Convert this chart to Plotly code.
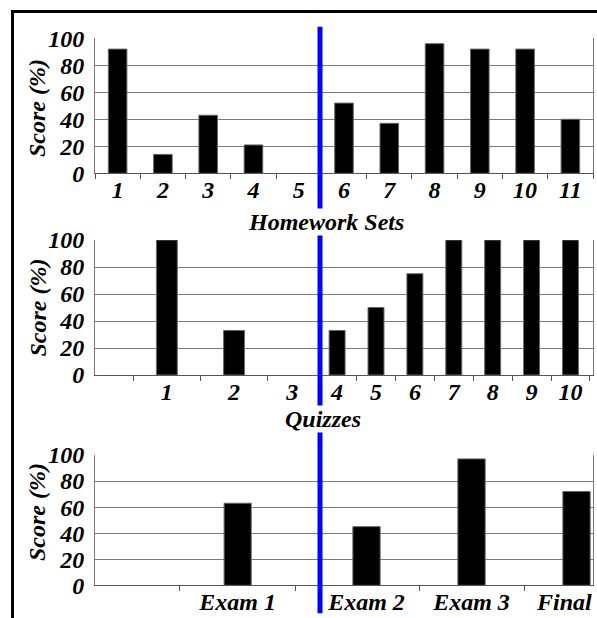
import plotly.graph_objects as go

W, H = 597, 618

# ---------------- data ----------------
hw_labels = ["1", "2", "3", "4", "5", "6", "7", "8", "9", "10", "11"]
hw_scores = [92, 14, 43, 21, 0, 52, 37, 96, 92, 92, 40]

quiz_labels_a = ["1", "2", "3"]
quiz_scores_a = [100, 33, 0]
quiz_labels_b = ["4", "5", "6", "7", "8", "9", "10"]
quiz_scores_b = [33, 50, 75, 100, 100, 100, 100]

exam_labels_a = ["Exam 1"]
exam_scores_a = [63]
exam_labels_b = ["Exam 2", "Exam 3", "Final"]
exam_scores_b = [45, 97, 72]

y_ticks = [0, 20, 40, 60, 80, 100]
y_title = "Score (%)"
panel_titles = ["Homework Sets", "Quizzes"]

# ---------------- helpers ----------------
def px(x):
    return x / W

def py(y):
    return 1 - y / H

NB = "\u00a0"
FONT = dict(family="Liberation Serif", size=24, color="black", weight="bold", style="italic")
GRID = "#7a7a7a"
AXL = "#555555"

X_L, X_MID, X_R = 95, 320, 593
panels_y = [(38.3, 173.3), (240, 375), (455, 585.3)]

fig = go.Figure()

def add_bars(xs, ys, xa, ya, width):
    fig.add_trace(go.Bar(
        x=xs, y=ys, xaxis=xa, yaxis=ya, width=width,
        marker=dict(color="black",
                    line=dict(color="#666666", width=[1 if v > 0 else 0 for v in ys])),
        showlegend=False, hoverinfo="skip"))

add_bars(hw_labels, hw_scores, "x", "y", 0.41)
add_bars(quiz_labels_a, quiz_scores_a, "x2", "y2", 0.31)
add_bars(quiz_labels_b, quiz_scores_b, "x3", "y3", 0.41)
add_bars(exam_labels_a, exam_scores_a, "x4", "y4", 0.235)
add_bars(exam_labels_b, exam_scores_b, "x5", "y5", 0.26)

def xaxis(domain, anchor, rng, cats, shown=None):
    ax = dict(domain=domain, anchor=anchor, type="category", range=rng,
              categoryorder="array", categoryarray=cats,
              tickson="boundaries", ticks="outside", ticklen=5, tickcolor=AXL,
              showline=True, linecolor=AXL, linewidth=1,
              showgrid=False, tickfont=FONT, ticklabelstandoff=-5,
              automargin=False, fixedrange=True)
    if shown is not None:
        ax.update(tickmode="array", tickvals=cats, ticktext=shown)
    return ax

def yaxis(domain, anchor, labels=True, side="left"):
    return dict(domain=domain, anchor=anchor, range=[0, 100], tickvals=y_ticks,
                ticktext=[str(v) for v in y_ticks],
                showticklabels=labels, side=side, ticks="",
                showline=True, linecolor=GRID, linewidth=1,
                showgrid=True, gridcolor=GRID, gridwidth=1,
                zeroline=False, tickfont=FONT, ticklabelstandoff=5,
                automargin=False, fixedrange=True)

full = [px(X_L), px(X_R)]
left = [px(X_L), px(X_MID)]
right = [px(X_MID), px(X_R)]
d = [[py(b), py(t)] for (t, b) in panels_y]

quiz_shown_a = quiz_labels_a[:-1] + [quiz_labels_a[-1] + NB * 3]
# last exam label is drawn as an annotation, shifted left so it stays inside the page
exam_shown_b = exam_labels_b[:-1] + [""]

layout = dict(
    width=W, height=H, margin=dict(l=0, r=0, t=0, b=0, pad=0, autoexpand=False),
    paper_bgcolor="white", plot_bgcolor="white",
    xaxis=xaxis(full, "y", [-0.5, 10.5], hw_labels),
    yaxis=yaxis(d[0], "x"),
    xaxis2=xaxis(left, "y2", [-1.07, 2.28], quiz_labels_a, quiz_shown_a),
    yaxis2=yaxis(d[1], "x2"),
    xaxis3=xaxis(right, "y3", [-0.44, 6.58], quiz_labels_b),
    yaxis3=yaxis(d[1], "x3", labels=False, side="right"),
    xaxis4=xaxis(left, "y4", [-1.237, 0.714], exam_labels_a),
    yaxis4=yaxis(d[2], "x4"),
    xaxis5=xaxis(right, "y5", [-0.443, 2.157], exam_labels_b, exam_shown_b),
    yaxis5=yaxis(d[2], "x5", labels=False, side="right"),
)
fig.update_layout(**layout)
fig.update_layout(yaxis=dict(mirror=True))

fig.add_annotation(text=exam_labels_b[-1], xref="x5", yref="y5",
                   x=exam_labels_b[-1], y=0, xshift=-13, yshift=-16.5,
                   showarrow=False, xanchor="center", yanchor="middle", font=FONT)

# frame (top and left black border)
fig.add_shape(type="line", xref="paper", yref="paper",
              x0=px(11), x1=1.0, y0=py(11.5), y1=py(11.5),
              line=dict(color="black", width=3))
fig.add_shape(type="line", xref="paper", yref="paper",
              x0=px(12.5), x1=px(12.5), y0=py(10), y1=0,
              line=dict(color="black", width=3))
# blue separator
fig.add_shape(type="line", xref="paper", yref="paper",
              x0=px(320), x1=px(320), y0=py(613.3), y1=py(26.7),
              line=dict(color="#0000ff", width=5), layer="above")

# y-axis titles
for yc in [108, 307.5, 512]:
    fig.add_annotation(text=y_title, xref="paper", yref="paper",
                       x=px(37), y=py(yc), textangle=-90, showarrow=False,
                       xanchor="center", yanchor="middle", font=FONT)

# panel titles (with white background covering the separator)
for txt, xc, yc in [(panel_titles[0], 326, 222), (panel_titles[1], 323, 419)]:
    fig.add_annotation(text=txt, xref="paper", yref="paper",
                       x=px(xc), y=py(yc), showarrow=False,
                       xanchor="center", yanchor="middle", font=FONT,
                       bgcolor="white", borderpad=0)

fig.write_html("out.html", config={"displayModeBar": False},
               post_script="document.body.style.margin='0';")
